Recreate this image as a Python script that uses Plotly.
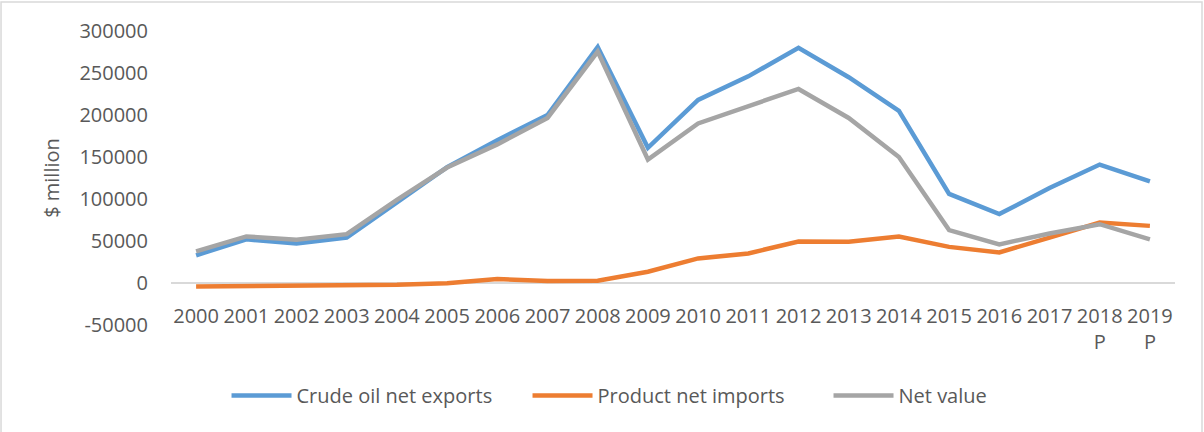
import plotly.graph_objects as go

years = ["2000", "2001", "2002", "2003", "2004", "2005", "2006", "2007", "2008", "2009",
         "2010", "2011", "2012", "2013", "2014", "2015", "2016", "2017", "2018<br>P", "2019<br>P"]

crude_net_exports = [33000, 52000, 47000, 54000, 96000, 138000, 170000, 200000, 281000, 161000,
                     218000, 246000, 280000, 245000, 205000, 106000, 82000, 113000, 141000, 121000]
product_net_imports = [-4200, -3600, -3600, -3500, -2200, -300, 4700, 2400, 2700, 13400,
                       29300, 35200, 49400, 49000, 55400, 43000, 36400, 54000, 72000, 68000]
net_value = [37600, 55400, 51400, 58100, 99000, 137500, 165000, 196500, 275500, 147000,
             190000, 210000, 231000, 196500, 150000, 63000, 46000, 59000, 70000, 52000]

y_ticks = [-50000, 0, 50000, 100000, 150000, 200000, 250000, 300000]
y_tick_labels = [str(v) for v in y_ticks]

series = [
    ("Crude oil net exports", crude_net_exports, "#5B9BD5"),
    ("Product net imports", product_net_imports, "#ED7D31"),
    ("Net value", net_value, "#A5A5A5"),
]

FONT = "'Open Sans', Lato, sans-serif"
TEXT = "#595959"
SIZE = 20

fig = go.Figure()
for name, vals, color in series:
    fig.add_trace(go.Scatter(
        x=list(range(len(years))), y=vals, name=name, mode="lines",
        line=dict(color=color, width=4.5, shape="linear"),
    ))

y_min, y_max = y_ticks[0], y_ticks[-1]
zero_pos = (0 - y_min) / (y_max - y_min)

fig.update_layout(
    width=1204, height=432,
    margin=dict(l=171, r=29, t=31, b=107, autoexpand=False),
    paper_bgcolor="white", plot_bgcolor="white",
    font=dict(family=FONT, size=SIZE, color=TEXT),
    showlegend=True,
    legend=dict(orientation="h", x=0.505, xanchor="center", y=-0.24, yanchor="middle",
                font=dict(size=SIZE, color=TEXT, family=FONT), itemwidth=60,
                traceorder="normal", entrywidth=226, entrywidthmode="pixels"),
    xaxis=dict(
        range=[-0.5, len(years) - 0.5],
        tickmode="array", tickvals=list(range(len(years))), ticktext=years,
        anchor="free", position=zero_pos,
        showgrid=False, showline=False, zeroline=False, ticks="",
        ticklabelstandoff=19,
        tickfont=dict(size=SIZE, color=TEXT, family=FONT),
    ),
    yaxis=dict(
        range=[y_min, y_max], tickmode="array", tickvals=y_ticks, ticktext=y_tick_labels,
        showgrid=False, zeroline=True, zerolinecolor="#D9D9D9", zerolinewidth=1.5,
        showline=False, ticks="", ticklabelstandoff=22,
        tickfont=dict(size=SIZE, color=TEXT, family=FONT),
        title=dict(text="$ million", font=dict(size=SIZE, color=TEXT, family=FONT), standoff=14),
    ),
)

# Chart frame
fig.add_shape(type="rect", xref="paper", yref="paper",
              x0=-0.1693, x1=1.0269, y0=-0.40, y1=1.0986,
              line=dict(color="#D9D9D9", width=1.5), fillcolor="rgba(0,0,0,0)", layer="below")

fig.write_html("out.html")
